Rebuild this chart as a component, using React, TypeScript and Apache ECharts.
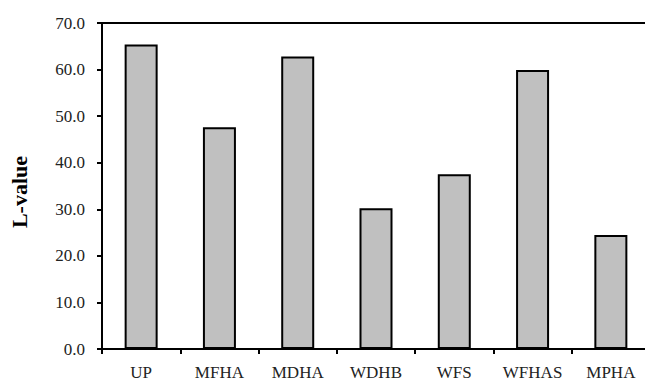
import React, { useEffect, useRef } from "react";
import * as echarts from "echarts";

const categories = ["UP", "MFHA", "MDHA", "WDHB", "WFS", "WFHAS", "MPHA"];
const lValues = [65.4, 47.6, 62.8, 30.2, 37.5, 59.9, 24.5];
const yTicks = { min: 0, max: 70, interval: 10 };
const yTitle = "L-value";

export default function App() {
  const ref = useRef<HTMLDivElement>(null);
  useEffect(() => {
    if (!ref.current) return;
    const chart = echarts.init(ref.current, null, { renderer: "svg" });
    const font = "Liberation Serif";
    chart.setOption({
      animation: false,
      grid: {
        left: 102,
        top: 23,
        width: 548,
        bottom: 34,
        outerBoundsMode: "none",
        containLabel: false,
        show: true,
        borderColor: "#000",
        borderWidth: 2,
        backgroundColor: "transparent",
      },
      graphic: [
        {
          type: "text",
          x: 19,
          y: 192,
          rotation: Math.PI / 2,
          style: {
            text: yTitle,
            fill: "#000",
            font: "bold 22px 'Liberation Serif'",
            align: "center",
            verticalAlign: "middle",
          },
        },
      ],
      xAxis: {
        type: "category",
        data: categories,
        axisLine: { lineStyle: { color: "#000", width: 2 } },
        axisTick: { show: true, length: 5, alignWithLabel: false, lineStyle: { color: "#000", width: 2 } },
        axisLabel: { color: "#222", fontFamily: font, fontSize: 17, margin: 15, interval: 0, lineHeight: 17 },
        splitLine: { show: false },
      },
      yAxis: {
        type: "value",
        min: yTicks.min,
        max: yTicks.max,
        interval: yTicks.interval,
        axisLine: { show: true, lineStyle: { color: "#000", width: 2 } },
        axisTick: { show: true, length: 5, lineStyle: { color: "#000", width: 2 } },
        axisLabel: {
          color: "#222",
          fontFamily: font,
          fontSize: 17,
          margin: 17,
          formatter: (v: number) => v.toFixed(1),
        },
        splitLine: { show: false },
      },
      series: [
        {
          type: "bar",
          data: lValues,
          barWidth: 33,
          itemStyle: { color: "#c0c0c0", borderColor: "#000", borderWidth: 2 },
        },
      ],
    });
    return () => chart.dispose();
  }, []);
  return (
    <div
      ref={ref}
      style={{ position: "fixed", left: 0, top: 0, width: 645, height: 383, background: "#fff" }}
    />
  );
}
